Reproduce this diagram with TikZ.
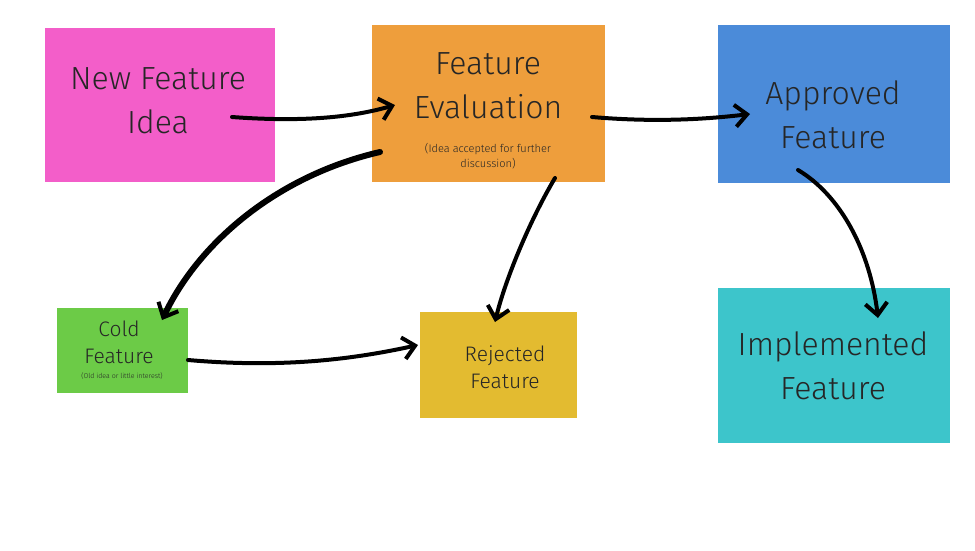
\documentclass[tikz,border=0pt]{standalone}
\usepackage{fontspec}
\setmainfont{Fira Sans Light}
\usetikzlibrary{arrows.meta}
\definecolor{cpink}{HTML}{F35EC9}
\definecolor{corange}{HTML}{EE9E3C}
\definecolor{cblue}{HTML}{4B8BD9}
\definecolor{cgreen}{HTML}{6CCB47}
\definecolor{cyellow}{HTML}{E3BB30}
\definecolor{cteal}{HTML}{3DC5CB}
\begin{document}
\begin{tikzpicture}[x=1pt,y=-1pt,
  note/.style={draw=none,inner sep=0pt,align=center,text=black!85},
  arr/.style={line width=4pt,line cap=round,-{Straight Barb[length=12pt,width=22pt,line width=4pt]}},
  big/.style={font=\fontsize{32}{44}\selectfont},
  mid/.style={font=\fontsize{21}{27}\selectfont},
  tiny/.style={font=\fontsize{11}{15}\selectfont}]
\useasboundingbox (0,0) rectangle (975,550);
\fill[cpink] (45,28) rectangle (275,182);
\fill[corange] (372,25) rectangle (605,182);
\fill[cblue] (718,25) rectangle (950,183);
\fill[cgreen] (57,308) rectangle (188,393);
\fill[cyellow] (420,312) rectangle (577,418);
\fill[cteal] (718,288) rectangle (950,443);
\node[note,big] (idea) at (158,101) {New Feature\\Idea};
\node[note,big] (eval) at (488,86) {Feature\\Evaluation};
\node[note,tiny] (evalsub) at (488,156) {(Idea accepted for further\\discussion)};
\node[note,big] (appr) at (833,115) {Approved\\Feature};
\node[note,mid] (cold) at (119,342) {Cold\\Feature};
\node[note,font=\fontsize{7}{8}\selectfont] (coldsub) at (122,376) {(Old idea or little interest)};
\node[note,mid] (rej) at (505,367) {Rejected\\Feature};
\node[note,big] (impl) at (833,366) {Implemented\\Feature};
\coordinate (a1) at (232,117); \coordinate (a2) at (395,105);
\coordinate (b1) at (592,117); \coordinate (b2) at (750,114);
\coordinate (c1) at (380,152); \coordinate (c2) at (162,320);
\coordinate (d1) at (555,178); \coordinate (d2) at (495,322);
\coordinate (e1) at (188,360); \coordinate (e2) at (418,345);
\coordinate (f1) at (798,170); \coordinate (f2) at (878,318);
\draw[arr] (a1) .. controls (300,122) and (350,118) .. (a2);
\draw[arr] (b1) .. controls (650,122) and (700,120) .. (b2);
\draw[arr,line width=6pt] (c1) .. controls (280,175) and (200,240) .. (c2);
\draw[arr] (d1) .. controls (530,220) and (505,280) .. (d2);
\draw[arr] (e1) .. controls (280,368) and (350,360) .. (e2);
\draw[arr] (f1) .. controls (840,195) and (870,250) .. (f2);
\end{tikzpicture}
\end{document}
